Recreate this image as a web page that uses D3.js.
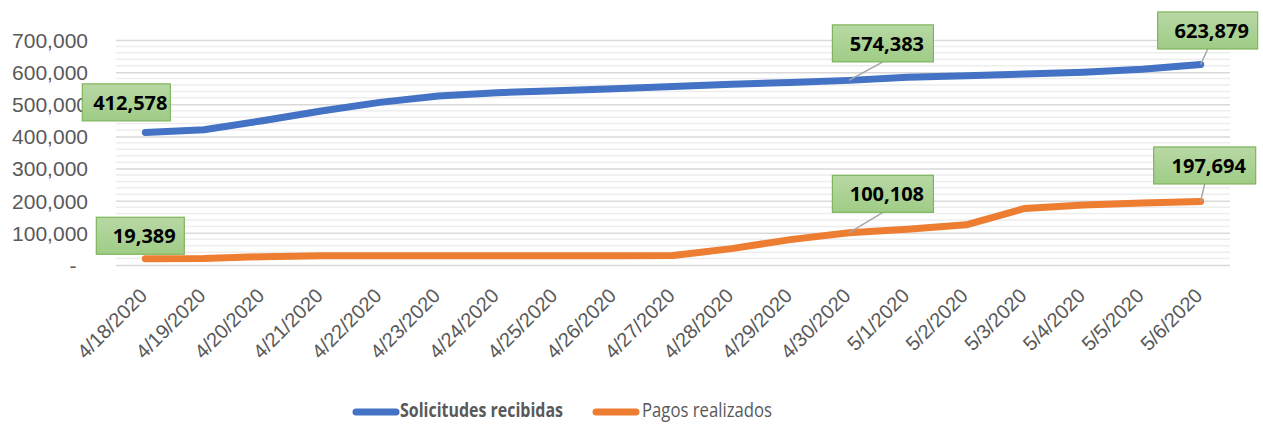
<!DOCTYPE html>
<html>
<head>
<meta charset="utf-8">
<script src="https://cdn.jsdelivr.net/npm/d3@7"></script>
<style>
  body { margin: 0; background: #fff; }
  svg { display: block; font-family: "Open Sans", Lato, sans-serif; }
</style>
</head>
<body>
<div id="chart"></div>
<script>
var dates = ["4/18/2020","4/19/2020","4/20/2020","4/21/2020","4/22/2020","4/23/2020","4/24/2020",
  "4/25/2020","4/26/2020","4/27/2020","4/28/2020","4/29/2020","4/30/2020","5/1/2020","5/2/2020",
  "5/3/2020","5/4/2020","5/5/2020","5/6/2020"];
var solicitudes = [412578, 421000, 449000, 479000, 506000, 526000, 536000, 542000, 548000, 555000,
  562000, 568000, 574383, 584000, 589000, 594000, 600000, 609000, 623879];
var pagos = [19389, 20000, 26000, 28500, 29000, 29000, 29000, 29000, 29000, 29500,
  51000, 79000, 100108, 111000, 125000, 176000, 187000, 193000, 197694];
var yTicks = [0, 100000, 200000, 300000, 400000, 500000, 600000, 700000];
var seriesNames = ["Solicitudes recibidas", "Pagos realizados"];

var W = 1263, H = 425;
var margin = {top: 40, right: 33, bottom: 160, left: 116};

var svg = d3.select("#chart").append("svg").attr("width", W).attr("height", H);

var x = d3.scaleBand().domain(dates).range([margin.left, W - margin.right]);
var y = d3.scaleLinear().domain([0, 700000]).range([H - margin.bottom, margin.top]);
var cx = function(d){ return x(d) + x.bandwidth()/2; };

// gridlines: minor every 20,000, major every 100,000
var minor = d3.range(0, 700001, 20000).filter(function(v){ return v % 100000 !== 0; });
svg.append("g").selectAll("line").data(minor).enter().append("line")
  .attr("x1", margin.left).attr("x2", W - margin.right)
  .attr("y1", function(d){ return y(d); }).attr("y2", function(d){ return y(d); })
  .style("stroke", "#ededed").style("stroke-width", "1.5px");

var yAxis = svg.append("g")
  .attr("transform", "translate(" + margin.left + ",0)")
  .call(d3.axisLeft(y).tickValues(yTicks)
    .tickSize(-(W - margin.left - margin.right))
    .tickPadding(28)
    .tickFormat(function(d){ return d === 0 ? "-" : d3.format(",")(d); }));
yAxis.select(".domain").remove();
yAxis.selectAll(".tick line").style("stroke", "#d9d9d9").style("stroke-width", "1.5px");
yAxis.selectAll(".tick text")
  .style("font-size", "21px").style("fill", "#595959")
  .attr("dy", "0.35em");
yAxis.selectAll(".tick text").filter(function(d){ return d === 0; })
  .attr("x", -43).attr("text-anchor", "middle");

// x axis labels
var xAxis = svg.append("g")
  .attr("transform", "translate(0," + (H - margin.bottom) + ")")
  .call(d3.axisBottom(x).tickSize(0).tickPadding(0));
xAxis.select(".domain").remove();
xAxis.selectAll(".tick text")
  .style("font-size", "20px").style("fill", "#595959")
  .attr("text-anchor", "end")
  .attr("dy", "0")
  .attr("y", 0)
  .attr("transform", "translate(3,32) rotate(-45)");

var colors = ["#4472C4", "#ED7D31"];
var line = d3.line()
  .x(function(d, i){ return cx(dates[i]); })
  .y(function(d){ return y(d); });

[solicitudes, pagos].forEach(function(s, k){
  svg.append("path").datum(s)
    .attr("d", line)
    .style("fill", "none")
    .style("stroke", colors[k])
    .style("stroke-width", "7px")
    .style("stroke-linecap", "round")
    .style("stroke-linejoin", "round");
});

// data labels
var defs = svg.append("defs");
var grad = defs.append("linearGradient").attr("id", "lblGrad")
  .attr("x1", 0).attr("y1", 0).attr("x2", 0).attr("y2", 1);
grad.append("stop").attr("offset", "0%").attr("stop-color", "#b8d8a4");
grad.append("stop").attr("offset", "100%").attr("stop-color", "#9fcc86");

var labels = [
  {series: solicitudes, i: 0, dx: -19, dy: -30, w: 88, leader: false},
  {series: pagos, i: 0, dx: -5, dy: -23, w: 88, leader: false},
  {series: solicitudes, i: 12, dx: 34, dy: -37, w: 101, leader: true},
  {series: pagos, i: 12, dx: 34, dy: -39, w: 101, leader: true},
  {series: solicitudes, i: 18, dx: 7, dy: -34, w: 100, leader: true},
  {series: pagos, i: 18, dx: 4, dy: -36, w: 102, leader: true}
];
var boxH = 37;

labels.forEach(function(l){
  var px = cx(dates[l.i]), py = y(l.series[l.i]);
  var bx = px + l.dx, by = py + l.dy;
  if (l.leader) {
    svg.append("line")
      .attr("x1", px).attr("y1", py)
      .attr("x2", bx).attr("y2", by + boxH/2)
      .style("stroke", "#a6a6a6").style("stroke-width", "1.5px");
  }
  svg.append("rect")
    .attr("x", bx - l.w/2).attr("y", by - boxH/2)
    .attr("width", l.w).attr("height", boxH)
    .style("fill", "url(#lblGrad)")
    .style("stroke", "#7fb45c").style("stroke-width", "1.2px");
  svg.append("text")
    .attr("x", bx + 4).attr("y", by)
    .attr("dy", "0.36em")
    .attr("text-anchor", "middle")
    .style("font-size", "20px").style("font-weight", "bold").style("fill", "#000")
    .text(d3.format(",")(l.series[l.i]));
});

// legend
var legendItems = [
  {x: 353, tx: 400, len: 163, bold: true},
  {x: 593, tx: 642, len: 130, bold: false}
];
legendItems.forEach(function(it, k){
  svg.append("line")
    .attr("x1", it.x + 3).attr("x2", it.x + 43)
    .attr("y1", 412).attr("y2", 412)
    .style("stroke", colors[k]).style("stroke-width", "7px")
    .style("stroke-linecap", "round");
  svg.append("text")
    .attr("x", it.tx).attr("y", 410).attr("dy", "0.36em")
    .attr("textLength", it.len).attr("lengthAdjust", "spacingAndGlyphs")
    .style("font-size", "20px").style("fill", "#595959")
    .style("font-weight", it.bold ? "bold" : "normal")
    .text(seriesNames[k]);
});
</script>
</body>
</html>
